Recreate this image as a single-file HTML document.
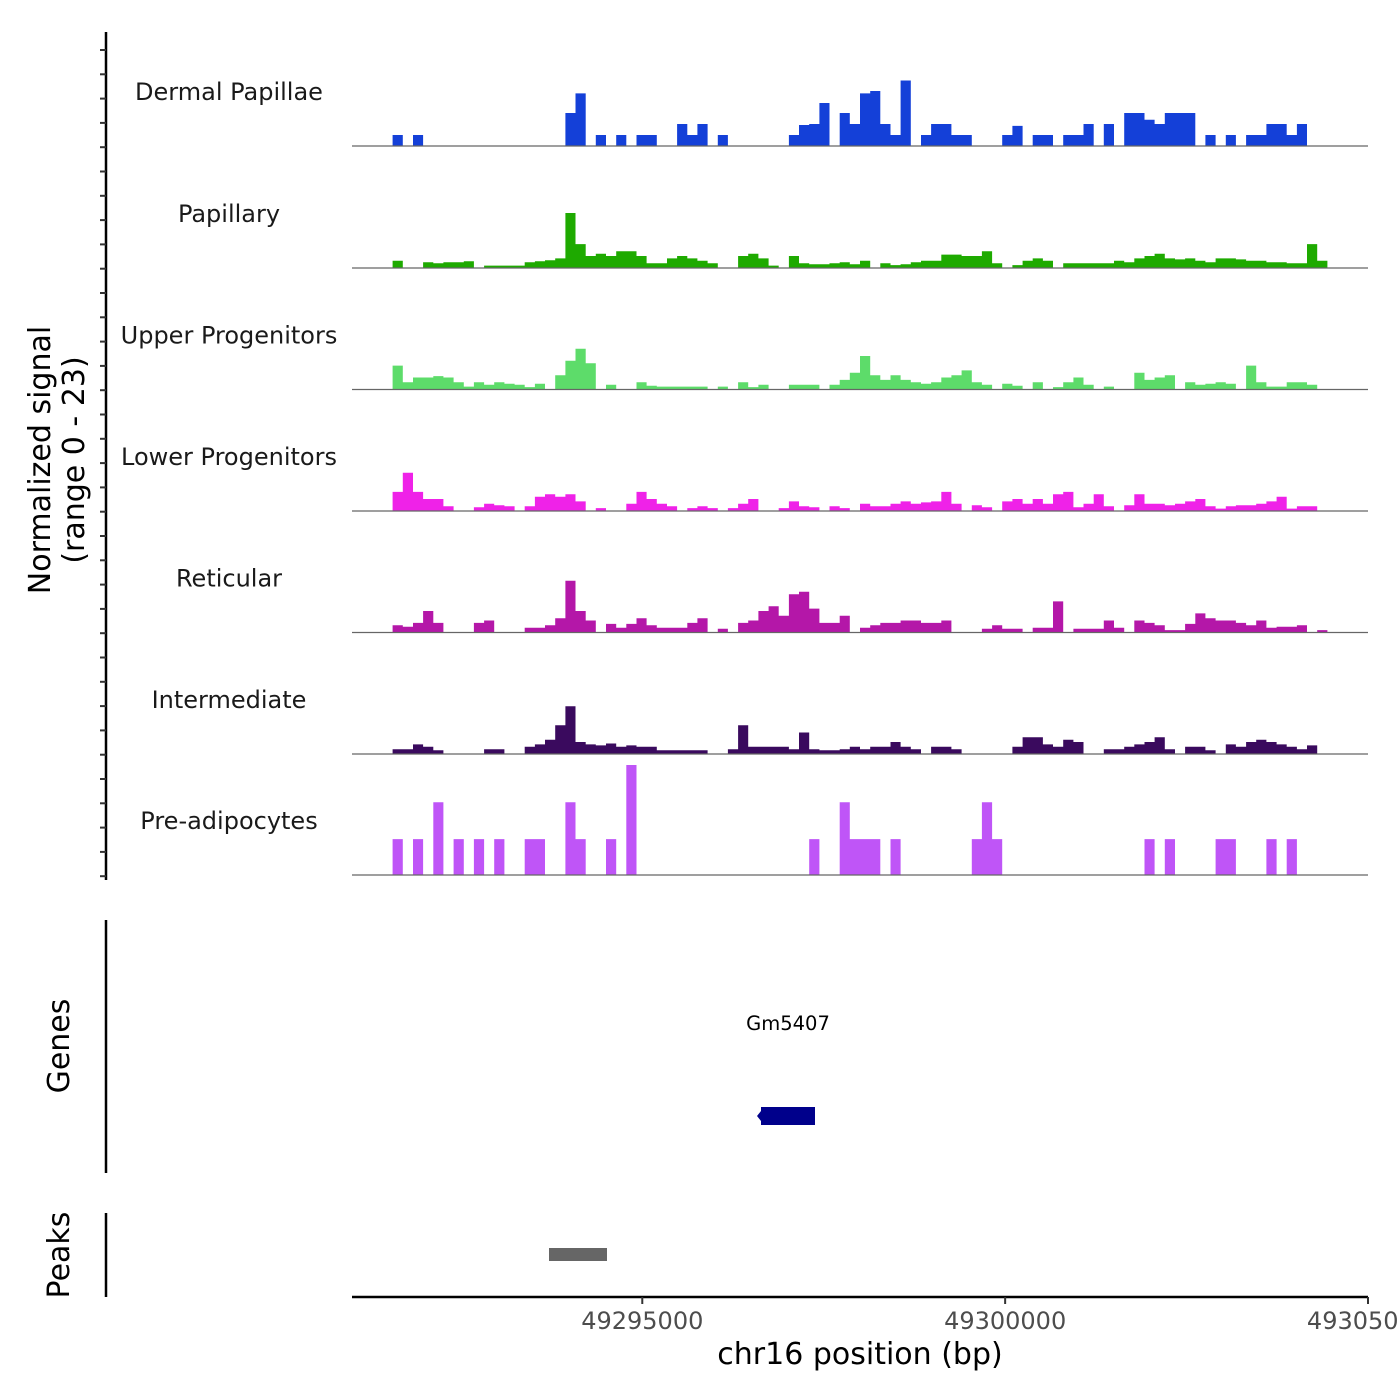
<!DOCTYPE html>
<html><head><meta charset="utf-8"><style>
html,body{margin:0;padding:0;background:#fff;}
svg{display:block;font-family:"DejaVu Sans","Liberation Sans",sans-serif;}
</style></head><body>
<svg id="chart" width="1400" height="1400" viewBox="0 0 1400 1400" xmlns="http://www.w3.org/2000/svg">
<rect width="1400" height="1400" fill="#fff"/>
<g id="tracks"></g>
<g id="yaxis">
<line x1="106" y1="32" x2="106" y2="880" stroke="#000" stroke-width="2.5"/>
</g>
<text transform="translate(50,460) rotate(-90)" text-anchor="middle" font-size="30">Normalized signal</text>
<text transform="translate(84,460) rotate(-90)" text-anchor="middle" font-size="30">(range 0 - 23)</text>
<line x1="106" y1="920" x2="106" y2="1173" stroke="#000" stroke-width="2.5"/>
<text transform="translate(69,1046) rotate(-90)" text-anchor="middle" font-size="30">Genes</text>
<text x="788" y="1030" text-anchor="middle" font-size="19.5">Gm5407</text>
<rect x="761" y="1107" width="54" height="18" fill="#00008b"/>
<path d="M761,1111 L757,1116 L761,1121 Z" fill="#00008b"/>
<line x1="106" y1="1213" x2="106" y2="1297" stroke="#000" stroke-width="2.5"/>
<text transform="translate(69,1255) rotate(-90)" text-anchor="middle" font-size="30">Peaks</text>
<rect x="549" y="1248" width="58" height="13" fill="#666"/>
<g id="xaxis">
<line x1="352" y1="1297" x2="1368" y2="1297" stroke="#000" stroke-width="2.5"/>
</g>
<text x="860" y="1364" text-anchor="middle" font-size="30">chr16 position (bp)</text>
</svg>
<script>
const regionStart = 49291000;
const regionEnd = 49305000;
const binSize = 140;
const xTicks = [49295000, 49300000, 49305000];
const trackNames = ["Dermal Papillae","Papillary","Upper Progenitors","Lower Progenitors","Reticular","Intermediate","Pre-adipocytes"];
const trackColors = ["#1440d8","#1eaa00","#5ddc6a","#ef22e8","#b417a8","#3a0a5e","#bf55f7"];
const yMax = 23;

const dpBins = [4,6,21,22,24,26,28,29,32,33,34,36,43,44,45,46,48,49,50,51,52,53,54,56,57,58,59,60,64,65,67,68,70,71,72,74,76,77,78,79,80,81,82,84,86,88,89,90,91,92,93];
const dpVals = [2.3,2.3,6.9,11,2.3,2.3,2.3,2.3,4.6,2.3,4.6,2.3,2.3,4.4,4.6,9,6.9,4.6,11,11.5,4.6,2.3,13.7,2.3,4.6,4.6,2.3,2.3,2.3,4.2,2.3,2.3,2.3,2.3,4.6,4.6,6.9,6.9,5.5,4.6,6.9,6.9,6.9,2.3,2.3,2.3,2.3,4.6,4.6,2.3,4.6];

const papBins = [4,7,8,9,10,11,13,14,15,16,17,18,19,20,21,22,23,24,25,26,27,28,29,30,31,32,33,34,35,38,39,40,41,43,44,45,46,47,48,49,50,52,53,54,55,56,57,58,59,60,61,62,63,65,66,67,68,70,71,72,73,74,75,76,77,78,79,80,81,82,83,84,85,86,87,88,89,90,91,92,93,94,95];
const papVals = [1.5,1.2,1.0,1.2,1.2,1.4,0.5,0.5,0.5,0.5,1.2,1.4,1.6,2,11.5,5,2.5,3,2.5,3.5,3.5,2.5,1,1,2,2.5,2,1.5,1,2.5,3,2,0.5,2.5,1,0.8,0.8,1,1.2,0.8,1.5,1,0.6,0.8,1.2,1.5,1.5,2.8,2.8,2.5,2.5,3.5,1,0.6,1.5,2,1.5,1,1,1,1,1,1.5,1.2,2,2.5,3,2,1.8,2,1.5,1.2,2,2,1.8,1.5,1.5,1.2,1.2,1,1,5,1.5];

const upBins = [4,5,6,7,8,9,10,11,12,13,14,15,16,17,18,20,21,22,23,25,28,29,30,31,32,33,34,36,38,39,40,43,44,45,47,48,49,50,51,52,53,54,55,56,57,58,59,60,61,62,64,65,67,69,70,71,72,74,77,78,79,80,82,83,84,85,86,88,89,90,91,92,93,94];
const upVals = [5,1.5,2.5,2.5,2.8,2.5,1.5,0.6,1.5,1,1.5,1.2,1,0.5,1.2,3,6,8.5,5.5,1,1.5,0.8,0.6,0.6,0.6,0.6,0.6,0.6,1.5,0.5,1,1,1,1,1,2,3.5,7,3,2,3,2,1.5,1.2,1.5,2.5,3,4,1.5,1,1.2,0.8,1.5,0.5,1.5,2.5,1,0.6,3.5,2,2.5,3,1.5,1,1.2,1.5,1.2,5,1.5,0.6,0.6,1.5,1.5,1];

const lpBins = [4,5,6,7,8,9,12,13,14,15,17,18,19,20,21,22,24,27,28,29,30,31,33,34,35,37,38,39,42,43,44,45,47,48,50,51,52,53,54,55,56,57,58,59,61,62,64,65,66,67,68,69,70,71,72,73,74,76,77,78,79,80,81,82,83,84,85,86,87,88,89,90,91,92,93,94];
const lpVals = [4,8,4,2.5,2.5,1,0.8,1.5,1.2,1,1,3,3.5,3,3.5,2,0.6,1.5,4,2.5,1.5,1,0.6,1,0.6,0.6,1.5,2.5,0.6,2,1,0.8,1,0.6,1.5,1,1,1.5,2,1.5,1.8,2,4,1.5,1.2,0.8,2,2.5,1.5,2.5,1.5,3.5,4,0.8,1.5,3.5,1,1.2,3.5,1.5,1.5,1.2,1.5,2,2.5,1,0.5,1,1.2,1.2,1.5,2,3,0.5,1,1];

const retBins = [4,5,6,7,8,12,13,17,18,19,20,21,22,23,25,26,27,28,29,30,31,32,33,34,36,38,39,40,41,42,43,44,45,46,47,48,50,51,52,53,54,55,56,57,58,62,63,64,65,67,68,69,71,72,73,74,75,77,78,79,80,81,82,83,84,85,86,87,88,89,90,91,92,93,95];
const retVals = [1.5,1.2,2,4.5,2,2,2.5,1,1,1.5,3,10.8,4.5,2.5,1.8,1,1.8,3,1.5,1,1,1,2,3,0.8,2,2.5,4.5,5.5,3.5,8,8.5,5,2,2,3.5,1,1.5,2,2,2.5,2.5,2,2,2.5,0.8,1.5,0.8,0.8,1,1,6.5,0.8,0.8,0.8,2.5,1,2.5,2,1.5,0.5,0.5,1.8,4,3,2.5,2.5,2,1.5,2.5,1,1.2,1.2,1.5,0.5];

const intBins = [4,5,6,7,8,13,14,17,18,19,20,21,22,23,24,25,26,27,28,29,30,31,32,33,34,37,38,39,40,41,42,43,44,45,46,47,48,49,50,51,52,53,54,55,57,58,59,65,66,67,68,69,70,71,74,75,76,77,78,79,80,82,83,84,86,87,88,89,90,91,92,93,94];
const intVals = [1,1,2,1.5,0.8,1,1,1.5,2,3,6,10,2.5,2,1.8,2.2,1.5,1.8,1.5,1.5,0.8,0.8,0.8,0.8,0.8,1,6,1.5,1.5,1.5,1.5,1,4.5,1,0.8,0.8,1,1.5,1,1.5,1.5,2.5,1.5,1,1.5,1.5,1,1.5,3.5,3.5,2,1.5,3,2.5,1,1,1.5,2,2.5,3.5,1,1.5,1.5,0.8,2,1.5,2.5,3,2.5,2,1.5,1,1.8];

const preBins = [4,6,8,10,12,14,17,18,21,22,25,27,45,48,49,50,51,53,61,62,63,78,80,85,86,90,92];
const preVals = [7.5,7.5,15.2,7.5,7.5,7.5,7.5,7.5,15.2,7.5,7.5,23,7.5,15.2,7.5,7.5,7.5,7.5,7.5,15.2,7.5,7.5,7.5,7.5,7.5,7.5,7.5];

const allBins = [dpBins,papBins,upBins,lpBins,retBins,intBins,preBins];
const allVals = [dpVals,papVals,upVals,lpVals,retVals,intVals,preVals];

const NS = "http://www.w3.org/2000/svg";
const X0 = 352, X1 = 1368;
function xScale(bp){ return X0 + (bp - regionStart) / (regionEnd - regionStart) * (X1 - X0); }
const baselines = [146,268,389.5,511,632.5,754,875];
const trackH = 110;
function yScale(v, t){ return baselines[t] - v / yMax * trackH; }

const tracks = document.getElementById('tracks');
trackNames.forEach((name, t) => {
  const g = document.createElementNS(NS, 'g');
  
  
  const bins = allBins[t], vals = allVals[t];
  let d = '';
  for (let k = 0; k < bins.length; k++) {
    const xa = xScale(regionStart + bins[k]*binSize);
    const xb = xScale(regionStart + (bins[k]+1)*binSize);
    const y = yScale(vals[k], t);
    d += 'M' + xa.toFixed(1) + ',' + baselines[t] + 'L' + xa.toFixed(1) + ',' + y.toFixed(1) + 'L' + xb.toFixed(1) + ',' + y.toFixed(1) + 'L' + xb.toFixed(1) + ',' + baselines[t] + 'Z';
  }
  const p = document.createElementNS(NS, 'path');
  p.setAttribute('d', d);
  p.setAttribute('fill', trackColors[t]);
  
  
  g.appendChild(p);
  const bl = document.createElementNS(NS, 'line');
  bl.setAttribute('x1', X0); bl.setAttribute('x2', X1);
  bl.setAttribute('y1', baselines[t]); bl.setAttribute('y2', baselines[t]);
  bl.setAttribute('stroke', '#666'); bl.setAttribute('stroke-width', '1.2');
  
  
  g.appendChild(bl);
  const lab = document.createElementNS(NS, 'text');
  lab.setAttribute('x', 229); lab.setAttribute('y', baselines[t] - 46);
  lab.setAttribute('text-anchor', 'middle'); lab.setAttribute('font-size', '24');
  lab.setAttribute('fill', '#1a1a1a');
  lab.textContent = name;
  
  
  g.appendChild(lab);
  tracks.appendChild(g);
});

const yaxis = document.getElementById('yaxis');
for (let i = 0; i < 35; i++) {
  const y = 50 + i * 24.3;
  const tk = document.createElementNS(NS, 'line');
  tk.setAttribute('x1', 100); tk.setAttribute('x2', 106);
  tk.setAttribute('y1', y); tk.setAttribute('y2', y);
  tk.setAttribute('stroke', '#333'); tk.setAttribute('stroke-width', '2');
  
  
  yaxis.appendChild(tk);
}

const xaxis = document.getElementById('xaxis');
xTicks.forEach(v => {
  const x = xScale(v);
  const tk = document.createElementNS(NS, 'line');
  tk.setAttribute('x1', x); tk.setAttribute('x2', x);
  tk.setAttribute('y1', 1297); tk.setAttribute('y2', 1304);
  tk.setAttribute('stroke', '#333'); tk.setAttribute('stroke-width', '2');
  
  
  xaxis.appendChild(tk);
  const lb = document.createElementNS(NS, 'text');
  lb.setAttribute('x', x); lb.setAttribute('y', 1329);
  lb.setAttribute('text-anchor', 'middle'); lb.setAttribute('font-size', '24');
  lb.setAttribute('fill', '#4d4d4d');
  lb.textContent = String(v);
  
  
  xaxis.appendChild(lb);
});
</script>
</body></html>
